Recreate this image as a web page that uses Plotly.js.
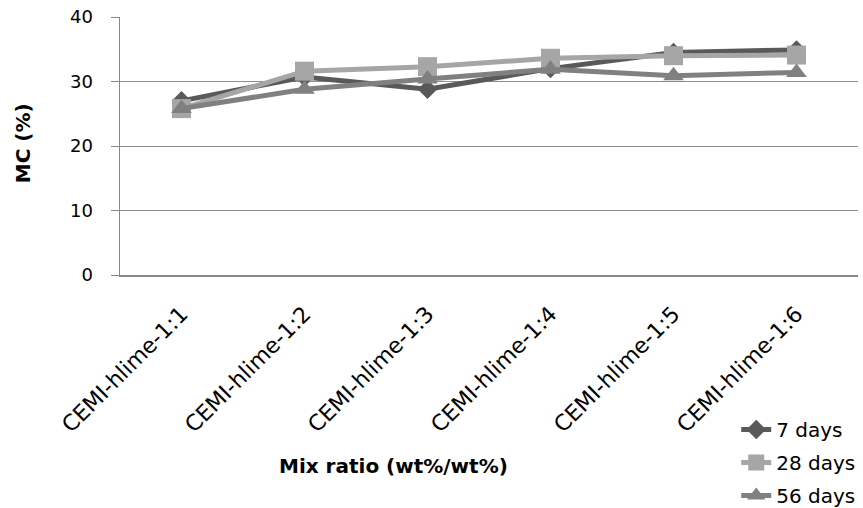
<!DOCTYPE html>
<html>
<head>
<meta charset="utf-8">
<script src="https://cdn.plot.ly/plotly-3.0.1.min.js"></script>
<style>html,body{margin:0;padding:0;background:#fff;}#chart{width:863px;height:508px;}</style>
</head>
<body>
<div id="chart"></div>
<script>
var categories = ["CEMI-hlime-1:1","CEMI-hlime-1:2","CEMI-hlime-1:3","CEMI-hlime-1:4","CEMI-hlime-1:5","CEMI-hlime-1:6"];
var days7  = [27.0, 30.7, 28.8, 32.0, 34.5, 34.9];
var days28 = [25.8, 31.6, 32.3, 33.6, 34.0, 34.1];
var days56 = [25.8, 28.8, 30.4, 31.9, 30.9, 31.4];
var seriesNames = ["7 days","28 days","56 days"];
var yTicks = [0, 10, 20, 30, 40];

var font = "DejaVu Sans, sans-serif";
function tr(name, y, color, symbol, size, group) {
  return {
    type: "scatter", mode: "lines+markers", name: name, x: categories, y: y,
    legendgroup: group,
    line: {color: color, width: 5},
    marker: {color: color, symbol: symbol, size: size, line: {width: 0}}
  };
}
var data = [
  tr(seriesNames[0], days7, "#595959", "diamond", 15, "a"),
  tr(seriesNames[1], days28, "#A6A6A6", "square", 19, "b"),
  tr(seriesNames[2], days56, "#808080", "triangle-up", 18, "c")
];
var layout = {
  width: 863, height: 508,
  margin: {l: 120, r: 5, t: 17, b: 233},
  paper_bgcolor: "#fff", plot_bgcolor: "#fff",
  font: {family: font, size: 18, color: "#000"},
  showlegend: true,
  legend: {x: 0.835, xanchor: "left", yref: "container", y: 0.193, yanchor: "top",
           font: {size: 20, family: font}, tracegroupgap: 4, bgcolor: "rgba(0,0,0,0)"},
  xaxis: {
    type: "category", tickangle: -45, showgrid: false, showline: true, automargin: false,
    linecolor: "#888888", linewidth: 1.5, ticks: "", zeroline: false, ticklabelstandoff: 16,
    tickfont: {size: 22, family: font}, range: [-0.5, 5.5]
  },
  yaxis: {
    range: [0, 40], tickvals: yTicks, showgrid: true, gridcolor: "#8c8c8c", gridwidth: 1,
    showline: true, linecolor: "#888888", linewidth: 1.5, ticks: "outside", ticklen: 8,
    tickcolor: "#888888", zeroline: false, ticklabelstandoff: 14, automargin: false,
    tickfont: {size: 18, family: font}
  },
  annotations: [
    {text: "<b>Mix ratio (wt%/wt%)</b>", xref: "paper", yref: "paper", x: 0.371, y: -0.74,
     xanchor: "center", yanchor: "middle", showarrow: false, font: {size: 20, family: font}},
    {text: "<b>MC (%)</b>", xref: "paper", yref: "paper", x: -0.131, y: 0.512, textangle: -90,
     xanchor: "center", yanchor: "middle", showarrow: false, font: {size: 20, family: font}}
  ]
};
Plotly.newPlot("chart", data, layout, {displayModeBar: false, staticPlot: true});
</script>
</body>
</html>
